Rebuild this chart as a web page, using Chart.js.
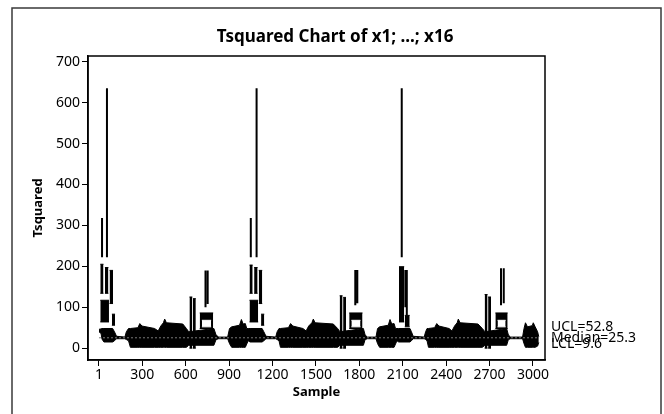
<!DOCTYPE html>
<html>
<head>
<meta charset="utf-8">
<script src="https://cdn.jsdelivr.net/npm/chart.js@4.4.1/dist/chart.umd.min.js"></script>
<style>
  html, body { margin: 0; padding: 0; background: #fff; }
</style>
</head>
<body>
<canvas id="chart" width="664" height="414"></canvas>
<script>
// text
const chartTitle = 'Tsquared Chart of x1; ...; x16';
const xTitle = 'Sample';
const yTitle = 'Tsquared';

// tick labels
const xTicks = [1, 300, 600, 900, 1200, 1500, 1800, 2100, 2400, 2700, 3000];
const yTicks = [0, 100, 200, 300, 400, 500, 600, 700];

// control limits
const limitNames = ['UCL', 'Median', 'LCL'];
const limitValues = [52.8, 25.3, 9.6];

// dense part of the series, read as an upper / lower envelope (sample, value)
const envX = [
  1, 15, 22, 35, 95, 108, 122, 180, 190, 205, 218, 270, 283, 298, 385, 410, 428, 446, 455, 467, 580, 605, 621, 795, 810, 828, 890, 903, 918, 972, 985, 997, 1012, 1022,
  1032, 1045, 1128, 1140, 1155, 1222, 1232, 1245, 1255, 1310, 1325, 1340, 1410, 1432, 1450, 1472, 1482, 1494, 1620, 1650, 1666, 1828, 1840, 1856, 1915, 1926, 1940, 2000, 2012, 2024, 2040, 2050,
  2060, 2072, 2150, 2160, 2172, 2248, 2258, 2268, 2278, 2320, 2335, 2350, 2420, 2440, 2458, 2476, 2484, 2496, 2620, 2650, 2668, 2818, 2830, 2845, 2928, 2938, 2948, 2962, 2995, 3002, 3015, 3032, 3040
];
const envTop = [
  46, 47, 48, 48, 48, 40, 29, 27, 40, 48, 48, 50, 60, 54, 48, 42, 54, 62, 71, 62, 59, 48, 40, 48, 32, 27, 27, 48, 52, 56, 70, 59, 60, 48,
  48, 48, 48, 40, 29, 27, 40, 48, 48, 50, 60, 54, 48, 42, 54, 62, 71, 62, 59, 48, 40, 48, 32, 27, 27, 48, 52, 56, 70, 59, 60, 48,
  48, 48, 48, 40, 29, 27, 40, 48, 48, 50, 60, 54, 48, 42, 54, 62, 71, 62, 59, 48, 40, 48, 32, 27, 27, 48, 62, 52, 55, 62, 52, 40, 28
];
const envBot = [
  40, 36, 22, 15, 15, 18, 23, 23, 21, 18, 2, 2, 2, 2, 2, 2, 2, 2, 2, 2, 2, 2, 7, 7, 21, 23, 23, 11, 2, 2, 2, 2, 2, 10,
  18, 15, 15, 18, 23, 23, 21, 18, 2, 2, 2, 2, 2, 2, 2, 2, 2, 2, 2, 2, 7, 7, 21, 23, 23, 11, 2, 2, 2, 2, 2, 10,
  18, 15, 15, 18, 23, 23, 21, 18, 2, 2, 2, 2, 2, 2, 2, 2, 2, 2, 2, 2, 7, 7, 21, 23, 23, 11, 2, 2, 2, 2, 2, 5, 14
];

// solid blocks of the series (from sample, to sample, low, high)
const blockX0 = [10, 42, 74, 10, 90, 626, 650, 697, 1041, 1073, 1105, 1041, 1121, 1664, 1688, 1730, 2074, 2114, 2666, 2690, 2740];
const blockX1 = [32, 66, 98, 70, 112, 646, 670, 790, 1063, 1097, 1129, 1101, 1143, 1684, 1708, 1822, 2110, 2148, 2686, 2710, 2825];
const blockLo = [134, 134, 109, 64, 56, 0, 0, 48, 134, 134, 109, 64, 56, 0, 0, 48, 64, 52, 0, 0, 48];
const blockHi = [205, 197, 190, 117, 83, 125, 121, 86, 203, 197, 190, 117, 83, 128, 124, 86, 199, 80, 131, 125, 86];

// empty boxes inside the blocks
const holeX0 = [712, 1745, 2755];
const holeX1 = [776, 1808, 2811];
const holeLo = [52, 52, 52];
const holeHi = [68, 68, 68];

// single vertical strokes
const spikeX = [22, 56, 737, 752, 1050, 1090, 1772, 1786, 2093, 2118, 2128, 2779, 2798];
const spikeLo = [222, 222, 100, 108, 222, 222, 105, 110, 222, 100, 80, 105, 110];
const spikeHi = [318, 635, 190, 190, 318, 635, 191, 191, 635, 191, 191, 195, 195];

Chart.defaults.font.family = '"Noto Sans", sans-serif';
Chart.defaults.color = '#000';

function pairFill(x0, x1, lo, hi, color, order) {
    // two flat lines, the second one filled up to the first
    return [
        { data: [{ x: x0, y: hi }, { x: x1, y: hi }], borderColor: color, borderWidth: 1, pointRadius: 0, fill: false, order: order },
        { data: [{ x: x0, y: lo }, { x: x1, y: lo }], borderColor: color, borderWidth: 1, pointRadius: 0, fill: '-1', backgroundColor: color, order: order }
    ];
}

var datasets = [];

// envelope
datasets.push({
    data: envX.map((x, i) => ({ x: x, y: envTop[i] })),
    borderColor: '#000', borderWidth: 1, pointRadius: 0, fill: false, tension: 0, order: 4
});
datasets.push({
    data: envX.map((x, i) => ({ x: x, y: envBot[i] })),
    borderColor: '#000', borderWidth: 1, pointRadius: 0, fill: '-1', backgroundColor: '#000', tension: 0, order: 4
});

for (let i = 0; i < blockX0.length; i++) {
    datasets.push(...pairFill(blockX0[i], blockX1[i], blockLo[i], blockHi[i], '#000', 3));
}
for (let i = 0; i < holeX0.length; i++) {
    datasets.push(...pairFill(holeX0[i], holeX1[i], holeLo[i], holeHi[i], '#fff', 2));
}

// spikes as one broken line
var spikeData = [];
spikeX.forEach((x, i) => {
    spikeData.push({ x: x, y: spikeLo[i] }, { x: x, y: spikeHi[i] }, { x: x, y: null });
});
datasets.push({
    data: spikeData, borderColor: '#000', borderWidth: 2, pointRadius: 0, fill: false, spanGaps: false, order: 1
});

// median line
datasets.push({
    data: [{ x: envX[0], y: limitValues[1] }, { x: envX[envX.length - 1], y: limitValues[1] }],
    borderColor: '#7a7a7a', borderWidth: 1, borderDash: [2, 2], pointRadius: 0, fill: false, order: 0
});

const textPlugin = {
    id: 'texts',
    afterDraw(chart) {
        const ctx = chart.ctx;
        const a = chart.chartArea;
        const ys = chart.scales.y;
        ctx.save();
        // outer border of the figure
        ctx.strokeStyle = '#3a3a3a';
        ctx.lineWidth = 1.5;
        ctx.strokeRect(12, 8, 649, 430);
        // plot frame
        ctx.strokeStyle = '#000';
        ctx.lineWidth = 1.5;
        ctx.strokeRect(a.left, a.top, a.right - a.left, a.bottom - a.top);

        ctx.fillStyle = '#000';
        ctx.textAlign = 'center';
        ctx.textBaseline = 'middle';
        ctx.font = 'bold 17px "Noto Sans"';
        ctx.fillText(chartTitle, 335, 37);
        ctx.font = 'bold 13px "Noto Sans"';
        ctx.fillText(xTitle, (a.left + a.right) / 2, 392);
        ctx.save();
        ctx.translate(38, (a.top + a.bottom) / 2);
        ctx.rotate(-Math.PI / 2);
        ctx.fillText(yTitle, 0, 0);
        ctx.restore();

        ctx.font = '14px "Noto Sans"';
        ctx.textAlign = 'left';
        limitNames.forEach((n, i) => {
            ctx.fillText(n + '=' + limitValues[i], a.right + 6, ys.getPixelForValue(limitValues[i]));
        });
        ctx.restore();
    }
};

new Chart(document.getElementById('chart').getContext('2d'), {
    type: 'line',
    data: { datasets: datasets },
    options: {
        responsive: false,
        animation: false,
        devicePixelRatio: 1,
        events: [],
        layout: { padding: { left: 0, right: 119, top: 56, bottom: 0 } },
        plugins: { legend: { display: false }, tooltip: { enabled: false }, title: { display: false } },
        scales: {
            x: {
                type: 'linear',
                min: -75,
                max: 3083,
                afterBuildTicks: s => { s.ticks = xTicks.map(v => ({ value: v })); },
                afterFit: s => { s.height = 54; },
                ticks: { font: { size: 14 }, color: '#000', maxRotation: 0, autoSkip: false, padding: 1,
                         callback: v => String(v) },
                grid: { drawOnChartArea: false, drawTicks: true, tickLength: 6, tickColor: '#000', tickWidth: 1 },
                border: { display: true, color: '#000', width: 1.5 }
            },
            y: {
                min: -29,
                max: 714,
                afterBuildTicks: s => { s.ticks = yTicks.map(v => ({ value: v })); },
                afterFit: s => { s.width = 88; },
                ticks: { font: { size: 14 }, color: '#000', padding: 2, callback: v => String(v) },
                grid: { drawOnChartArea: false, drawTicks: true, tickLength: 6, tickColor: '#000', tickWidth: 1 },
                border: { display: true, color: '#000', width: 1.5 }
            }
        }
    },
    plugins: [textPlugin]
});
</script>
</body>
</html>
